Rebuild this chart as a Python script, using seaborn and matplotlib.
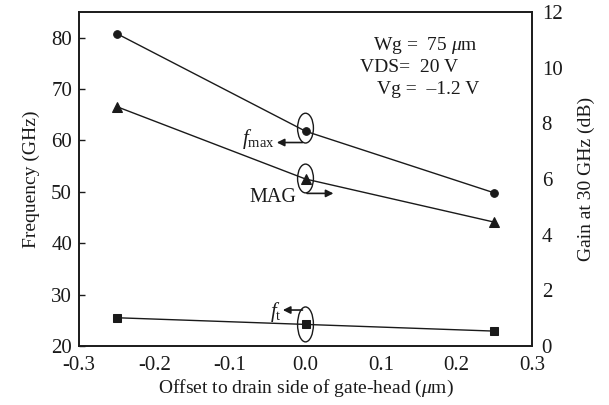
import matplotlib
matplotlib.use("Agg")
import matplotlib.pyplot as plt
from matplotlib.patches import Ellipse
import seaborn as sns
import pandas as pd

# Data
offset = [-0.25, 0.0, 0.25]
fmax = [80.8, 61.8, 49.8]      # GHz, left axis
ft = [25.5, 24.2, 22.9]        # GHz, left axis
mag = [8.6, 6.0, 4.45]         # dB, right axis
xticks = [-0.3, -0.2, -0.1, 0.0, 0.1, 0.2, 0.3]
left_ticks = [20, 30, 40, 50, 60, 70, 80]
right_ticks = [0, 2, 4, 6, 8, 10, 12]

sns.set_theme(style="white")
plt.rcParams["font.family"] = ["Liberation Serif", "DejaVu Serif"]
plt.rcParams["mathtext.fontset"] = "custom"
plt.rcParams["mathtext.rm"] = "Liberation Serif"
plt.rcParams["mathtext.it"] = "Liberation Serif:italic"
plt.rcParams["axes.unicode_minus"] = False

fig = plt.figure(figsize=(6.09, 4.05), dpi=100)
ax = fig.add_axes([79/609, 1-346/405, (532-79)/609, (346-12)/405])
ax2 = ax.twinx()

df = pd.DataFrame({"offset": offset, "fmax": fmax, "ft": ft, "mag": mag})
lw = 1.0
sns.lineplot(data=df, x="offset", y="fmax", ax=ax, color="k", marker="o",
             markersize=5.5, markeredgecolor="k", linewidth=lw)
sns.lineplot(data=df, x="offset", y="ft", ax=ax, color="k", marker="s",
             markersize=5.5, markeredgecolor="k", linewidth=lw)
sns.lineplot(data=df, x="offset", y="mag", ax=ax2, color="k", marker="^",
             markersize=6.5, markeredgecolor="k", linewidth=lw)

ax.set_xlim(-0.3, 0.3)
ax.set_ylim(20, 85)
ax2.set_ylim(0, 12)
ax.set_xticks(xticks)
ax.set_xticklabels([f"{v:.1f}" for v in xticks])
ax.set_yticks(left_ticks)
ax2.set_yticks(right_ticks)

fs = 15
ax.tick_params(axis="both", direction="in", length=4.5, width=1, labelsize=fs,
               color="k", labelcolor="k")
ax.tick_params(axis="x", pad=7)
ax.tick_params(axis="y", pad=5)
ax.tick_params(axis="y", right=False)
ax2.tick_params(axis="y", length=0, pad=7, labelsize=fs, labelcolor="k")

ax.set_xlabel(r"Offset to drain side of gate-head ($\mu$m)", fontsize=14, color="k", labelpad=2)
ax.set_ylabel("Frequency (GHz)", fontsize=14, color="k", labelpad=8)
ax2.set_ylabel("Gain at 30 GHz (dB)", fontsize=14, color="k", labelpad=11)

for a in (ax, ax2):
    for s in a.spines.values():
        s.set_color("k")
        s.set_linewidth(1.2)
ax.grid(False)
ax2.grid(False)

# Ellipses around the middle points (left-axis data coords)
for cy, h in [(62.4, 5.8), (52.6, 5.6), (24.2, 6.8)]:
    ax.add_patch(Ellipse((0.0, cy), width=0.021, height=h, fill=False,
                         edgecolor="k", linewidth=1.0, zorder=5))

arrow = dict(arrowstyle="-|>", color="k", lw=1.2, mutation_scale=11,
             shrinkA=0, shrinkB=0)
ax.annotate("", xy=(-0.038, 59.6), xytext=(-0.004, 59.6), arrowprops=arrow)
ax.annotate("", xy=(0.037, 49.7), xytext=(0.002, 49.7), arrowprops=arrow)
ax.annotate("", xy=(-0.030, 27.0), xytext=(-0.004, 27.0), arrowprops=arrow)

ax.text(-0.041, 60.3, r"$f_{\mathrm{max}}$", fontsize=15, ha="right", va="center", color="k")
ax.text(-0.043, 48.9, "MAG", fontsize=14.5, ha="center", va="center", color="k")
ax.text(-0.032, 26.6, r"$f_{\mathrm{t}}$", fontsize=15, ha="right", va="center", color="k")

# Condition labels
ax.text(373, 405-45, r"Wg =  75 $\mu$m", fontsize=14, ha="left", va="center",
        color="k", transform=None)
ax.text(360, 405-68, "VDS=  20 V", fontsize=14, ha="left", va="center",
        color="k", transform=None)
ax.text(377, 405-90, "Vg =  \u20131.2 V", fontsize=14, ha="left", va="center",
        color="k", transform=None)

fig.savefig("out.png", dpi=100, facecolor="white")
